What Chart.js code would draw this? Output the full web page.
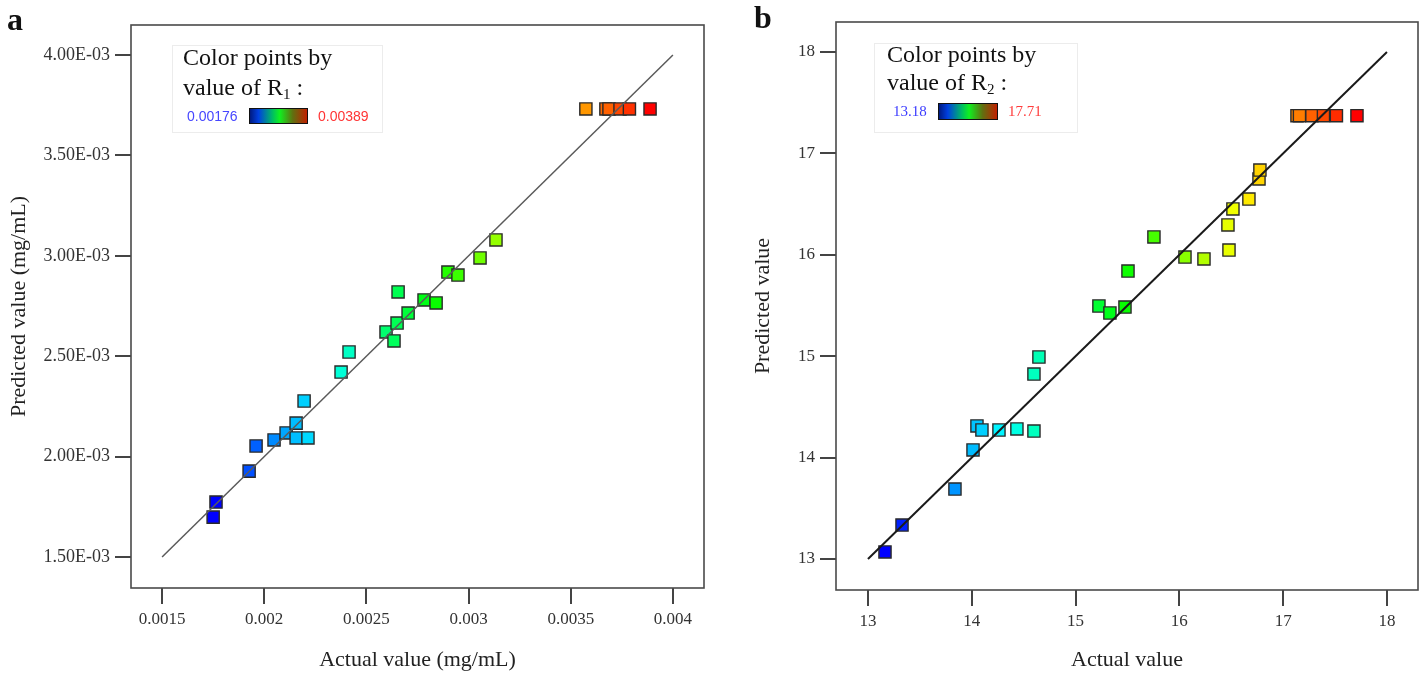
<!DOCTYPE html>
<html>
<head>
<meta charset="utf-8">
<script src="https://cdn.jsdelivr.net/npm/chart.js@4/dist/chart.umd.min.js"></script>
<style>
body{margin:0;background:#fff;width:1422px;height:679px;overflow:hidden;font-family:"Liberation Serif",serif}
#wrapA{position:absolute;left:0;top:0;width:720px;height:679px}
#wrapB{position:absolute;left:720px;top:0;width:702px;height:679px}
.letter{position:absolute;font-weight:bold;font-size:32px;line-height:32px;color:#111}
.legend{position:absolute;border:1px solid #ececec;background:#fff;color:#111}
.legend .l1,.legend .l2{position:absolute;font-size:24px;line-height:24px;white-space:nowrap}
.legend sub{font-size:15px;vertical-align:-4px}
.legend .lo,.legend .hi{position:absolute;white-space:nowrap}
.legend .bar{position:absolute;border:1.5px solid #111;box-sizing:border-box;
background:linear-gradient(to right,#001a80 0%,#0040e0 15%,#00c060 40%,#10f020 52%,#607010 75%,#c02000 100%)}
</style>
</head>
<body>
<div id="wrapA"><canvas id="chartA"></canvas></div>
<div id="wrapB"><canvas id="chartB"></canvas></div>

<div class="letter" style="left:7px;top:3px">a</div>
<div class="letter" style="left:754px;top:1px">b</div>

<div class="legend" style="left:172px;top:45px;width:209px;height:86px">
  <div class="l1" style="left:10px;top:-1px">Color points by</div>
  <div class="l2" style="left:10px;top:29px">value of R<sub>1</sub> :</div>
  <div class="lo" style="left:14px;top:62px;font-family:'Liberation Sans',sans-serif;font-size:14px;color:#4646ff">0.00176</div>
  <div class="bar" style="left:76px;top:62px;width:59px;height:16px"></div>
  <div class="hi" style="left:145px;top:62px;font-family:'Liberation Sans',sans-serif;font-size:14px;color:#ff3434">0.00389</div>
</div>

<div class="legend" style="left:874px;top:43px;width:202px;height:88px">
  <div class="l1" style="left:12px;top:-2px">Color points by</div>
  <div class="l2" style="left:12px;top:26px">value of R<sub>2</sub> :</div>
  <div class="lo" style="left:18px;top:59px;font-size:15px;color:#3c3cff">13.18</div>
  <div class="bar" style="left:63px;top:59px;width:60px;height:17px"></div>
  <div class="hi" style="left:133px;top:59px;font-size:15px;color:#ff3c3c">17.71</div>
</div>

<script>
// panel a: R1 (mg/mL)
const actualA = [0.00175,0.001764,0.001926,0.00196,0.002048,0.002107,0.002156,0.002156,0.002214,0.002195,
  0.002376,0.002415,0.002596,0.002635,0.00265,0.002655,0.002704,0.002782,0.002841,0.002899,
  0.002948,0.003056,0.003134,0.003574,0.003672,0.003687,0.003741,0.003787,0.003888]
const predictedA = [0.001699,0.001774,0.001928,0.002053,0.002083,0.002118,0.002167,0.002093,0.002093,0.002277,
  0.002421,0.002521,0.002621,0.002576,0.002665,0.00282,0.002715,0.00278,0.002765,0.002919,
  0.002904,0.002989,0.003079,0.003731,0.003731,0.003731,0.003731,0.003731,0.003731]
const lineA = [0.0015,0.004]
const ticksAx = [0.0015,0.002,0.0025,0.003,0.0035,0.004]
const labelsAx = ["0.0015","0.002","0.0025","0.003","0.0035","0.004"]
const ticksAy = [0.0015,0.002,0.0025,0.003,0.0035,0.004]
const labelsAy = ["1.50E-03","2.00E-03","2.50E-03","3.00E-03","3.50E-03","4.00E-03"]
const rangeA = [0.00176,0.00389]

// panel b: R2
const actualB = [13.164,13.328,13.838,14.012,14.05,14.098,14.262,14.435,14.599,14.599,
  14.647,15.225,15.331,15.476,15.505,15.755,16.054,16.237,16.468,16.478,
  16.516,16.67,16.767,16.776,17.133,17.157,17.277,17.388,17.513,17.711]
const predictedB = [13.069,13.335,13.69,14.075,14.312,14.272,14.272,14.282,14.262,14.824,
  14.992,15.495,15.426,15.485,15.84,16.176,15.978,15.959,16.294,16.047,
  16.452,16.55,16.748,16.836,17.372,17.372,17.372,17.372,17.372,17.372]
const lineB = [13,18]
const ticksB = [13,14,15,16,17,18]
const rangeB = [13.18,17.71]

function colorFor(v,range){
  let t=(v-range[0])/(range[1]-range[0])
  t=Math.max(0,Math.min(1,t))
  return "hsl("+(240*(1-t))+",100%,50%)"
}

const boxPlugin = {
  id:"box",
  afterDraw(chart){
    const a=chart.chartArea, ctx=chart.ctx
    ctx.save()
    ctx.strokeStyle="#4a4a4a"
    ctx.lineWidth=1.6
    ctx.strokeRect(a.left,a.top,a.right-a.left,a.bottom-a.top)
    ctx.restore()
  }
}

function makeChart(id,opt){
  const pts=opt.xs.map((x,i)=>({x:x,y:opt.ys[i]}))
  return new Chart(document.getElementById(id),{
    type:"scatter",
    data:{datasets:[
      {
        type:"line",
        data:opt.line.map(v=>({x:v,y:v})),
        borderColor:opt.lineColor,
        borderWidth:opt.lineWidth,
        pointRadius:0,
        fill:false,
        order:0
      },
      {
        data:pts,
        pointStyle:"rect",
        pointRadius:8.6,
        pointHoverRadius:8.6,
        pointBorderWidth:1.4,
        pointBorderColor:"#2a2a2a",
        pointBackgroundColor:opt.xs.map(v=>colorFor(v,opt.range)),
        order:1
      }
    ]},
    options:{
      responsive:true,
      maintainAspectRatio:false,
      animation:false,
      events:[],
      layout:{autoPadding:false,padding:{left:0,right:opt.padRight,top:opt.padTop,bottom:0}},
      plugins:{legend:{display:false},tooltip:{enabled:false}},
      scales:{
        x:{
          type:"linear",
          min:opt.xMin,max:opt.xMax,
          border:{display:false},
          grid:{drawOnChartArea:false,drawTicks:true,tickLength:16,tickColor:"#444",lineWidth:2},
          afterBuildTicks:s=>{s.ticks=opt.xTicks.map(v=>({value:v}))},
          afterFit:s=>{s.height=opt.xHeight;s.paddingLeft=0;s.paddingRight=0},
          ticks:{
            padding:5,color:"#333",maxRotation:0,autoSkip:false,
            font:{family:"Liberation Serif",size:17},
            callback:(v,i)=>opt.xLabels[i]
          },
          title:{display:true,text:opt.xTitle,color:"#222",
            font:{family:"Liberation Serif",size:22},padding:{top:0,bottom:6}}
        },
        y:{
          type:"linear",
          min:opt.yMin,max:opt.yMax,
          border:{display:false},
          grid:{drawOnChartArea:false,drawTicks:true,tickLength:16,tickColor:"#444",lineWidth:2},
          afterBuildTicks:s=>{s.ticks=opt.yTicks.map(v=>({value:v}))},
          afterFit:s=>{s.width=opt.yWidth;s.paddingTop=0;s.paddingBottom=0},
          ticks:{
            padding:5,color:"#333",autoSkip:false,
            font:{family:"Liberation Serif",size:opt.yTickSize},
            callback:(v,i)=>opt.yLabels[i]
          },
          title:{display:true,text:opt.yTitle,color:"#222",
            font:{family:"Liberation Serif",size:22},padding:{top:opt.yTitlePad,bottom:0}}
        }
      }
    },
    plugins:[boxPlugin]
  })
}

makeChart("chartA",{
  xs:actualA, ys:predictedA, line:lineA, range:rangeA,
  lineColor:"#5a5a5a", lineWidth:1.5,
  xMin:0.001348, xMax:0.004152, yMin:0.001346, yMax:0.004149,
  xTicks:ticksAx, xLabels:labelsAx, yTicks:ticksAy, yLabels:labelsAy,
  padRight:16, padTop:25, xHeight:91, yWidth:131, yTitlePad:6, yTickSize:18,
  xTitle:"Actual value (mg/mL)", yTitle:"Predicted value (mg/mL)"
})

makeChart("chartB",{
  xs:actualB, ys:predictedB, line:lineB, range:rangeB,
  lineColor:"#1a1a1a", lineWidth:2,
  xMin:12.692, xMax:18.299, yMin:12.694, yMax:18.296,
  xTicks:ticksB, xLabels:ticksB.map(String), yTicks:ticksB, yLabels:ticksB.map(String),
  padRight:4, padTop:22, xHeight:89, yWidth:116, yTitlePad:30, yTickSize:17,
  xTitle:"Actual value", yTitle:"Predicted value"
})
</script>
</body>
</html>
